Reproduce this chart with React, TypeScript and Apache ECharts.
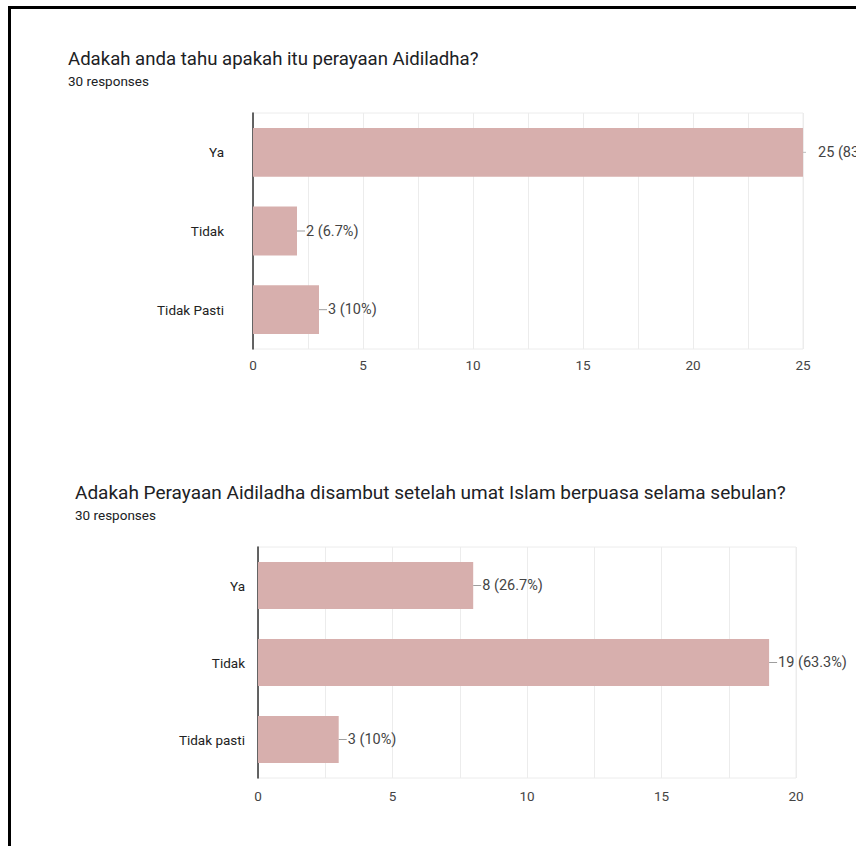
import React, { useEffect, useRef } from "react";
import * as echarts from "echarts";

const title1 = "Adakah anda tahu apakah itu perayaan Aidiladha?";
const title2 = "Adakah Perayaan Aidiladha disambut setelah umat Islam berpuasa selama sebulan?";
const responsesText = "30 responses";

const categories1 = ["Ya", "Tidak", "Tidak Pasti"];
const values1 = [25, 2, 3];
const labels1 = ["25 (83.3%)", "2 (6.7%)", "3 (10%)"];

const categories2 = ["Ya", "Tidak", "Tidak pasti"];
const values2 = [8, 19, 3];
const labels2 = ["8 (26.7%)", "19 (63.3%)", "3 (10%)"];

const max1 = 25;
const max2 = 20;

const FONT = "Roboto, 'Noto Sans', Arial, sans-serif";
const BAR = "#d7afad";

export default function App() {
  const ref = useRef<HTMLDivElement>(null);

  useEffect(() => {
    if (!ref.current) return;
    const chart = echarts.init(ref.current, undefined, { renderer: "svg" });

    const rich = {
      l: { width: 8, height: 1, backgroundColor: "#9e9e9e" },
      s: { width: 3, height: 1, backgroundColor: "#bdbdbd" },
      g: { width: 11, height: 1 },
      v: { fontSize: 14.5, color: "#444444", fontFamily: FONT, padding: [0, 0, 0, 1] },
    };

    const makeFormatter = (labels: string[], max: number) => (p: any) =>
      p.value >= max ? `{s|}{g|}{v|${labels[p.dataIndex]}}` : `{l|}{v|${labels[p.dataIndex]}}`;

    const xAxisCommon = (gridIndex: number, max: number, margin: number) => ({
      type: "value",
      gridIndex,
      min: 0,
      max,
      interval: 2.5,
      axisLine: { show: false },
      axisTick: { show: false },
      splitLine: { show: true, lineStyle: { color: "#ececec", width: 1 } },
      axisLabel: {
        margin,
        color: "#444444",
        fontSize: 13.5,
        fontFamily: FONT,
        formatter: (v: number) => (v % 5 === 0 ? String(v) : ""),
      },
    });

    const yAxisCommon = (gridIndex: number, data: string[], margin: number) => ({
      type: "category",
      gridIndex,
      data,
      inverse: true,
      axisLine: { show: true, lineStyle: { color: "#333333", width: 1.5 } },
      axisTick: { show: false },
      splitLine: { show: false },
      axisLabel: { margin, color: "#222222", fontSize: 13.5, fontFamily: FONT },
    });

    const titleStyle = (size: number) => ({
      fontSize: size,
      fontWeight: "normal",
      color: "#202124",
      fontFamily: FONT,
    });

    const option = {
      animation: false,
      backgroundColor: "#ffffff",
      title: [
        { text: title1, left: 68, top: 49, padding: 0, textStyle: titleStyle(18.6) },
        { text: responsesText, left: 68, top: 74, padding: 0, textStyle: titleStyle(13.5) },
        { text: title2, left: 75, top: 483, padding: 0, textStyle: titleStyle(19) },
        { text: responsesText, left: 75, top: 508, padding: 0, textStyle: titleStyle(13.5) },
      ],
      grid: [
        { left: 253, right: 53, top: 113, height: 236, show: true, borderColor: "#ececec", borderWidth: 1, backgroundColor: "transparent" },
        { left: 258, right: 60, top: 547, height: 231, show: true, borderColor: "#ececec", borderWidth: 1, backgroundColor: "transparent" },
      ],
      xAxis: [xAxisCommon(0, max1, 9), xAxisCommon(1, max2, 11)],
      yAxis: [yAxisCommon(0, categories1, 29), yAxisCommon(1, categories2, 13)],
      series: [
        {
          type: "bar",
          xAxisIndex: 0,
          yAxisIndex: 0,
          barCategoryGap: "38%",
          itemStyle: { color: BAR },
          data: values1.map((v) => ({ value: v })),
          label: {
            show: true,
            position: "right",
            distance: 0,
            formatter: makeFormatter(labels1, max1),
            rich,
          },
          z: 3,
        },
        {
          type: "bar",
          xAxisIndex: 1,
          yAxisIndex: 1,
          barCategoryGap: "39%",
          itemStyle: { color: BAR },
          data: values2.map((v) => ({ value: v })),
          label: {
            show: true,
            position: "right",
            distance: 0,
            formatter: makeFormatter(labels2, max2 + 1),
            rich,
          },
          z: 3,
        },
      ],
      graphic: [
        { type: "rect", shape: { x: 8, y: 6, width: 900, height: 3 }, style: { fill: "#000000" }, z: 100 },
        { type: "rect", shape: { x: 8, y: 6, width: 3, height: 900 }, style: { fill: "#000000" }, z: 100 },
      ],
    };

    chart.setOption(option as any);
    return () => chart.dispose();
  }, []);

  return (
    <div
      style={{
        position: "absolute",
        left: 0,
        top: 0,
        width: 856,
        height: 846,
        overflow: "hidden",
        background: "#ffffff",
      }}
    >
      <div ref={ref} style={{ width: 856, height: 846 }} />
    </div>
  );
}
